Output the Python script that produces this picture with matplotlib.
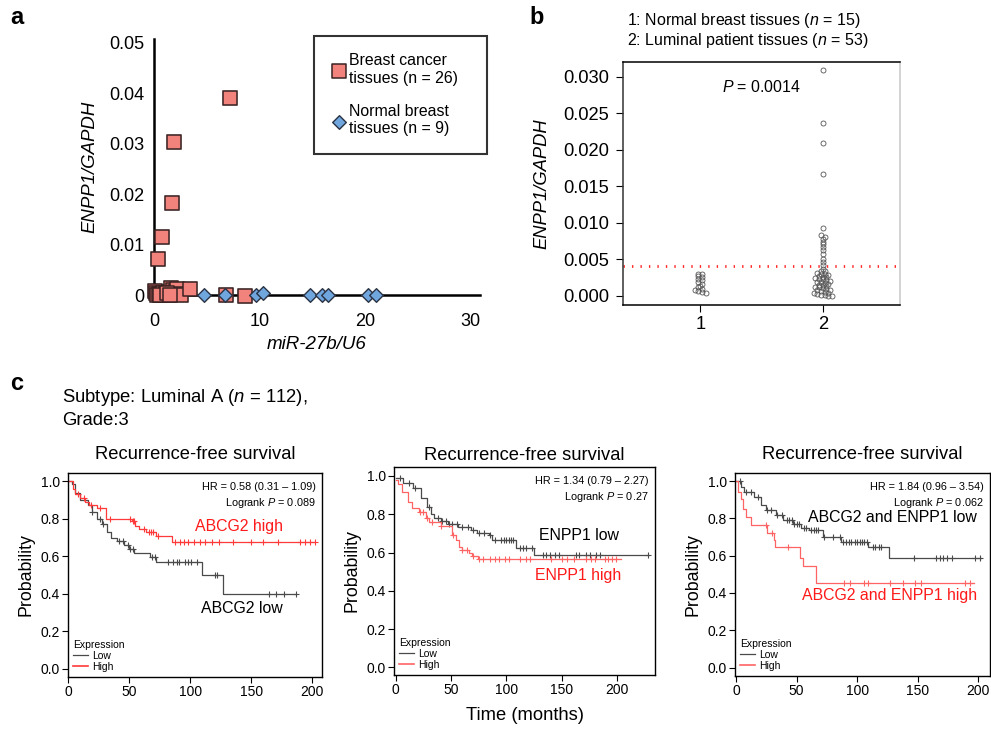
import numpy as np
import matplotlib
matplotlib.use('Agg')
import matplotlib.pyplot as plt
from matplotlib.lines import Line2D

plt.rcParams['font.family'] = ['Liberation Sans', 'DejaVu Sans']
plt.rcParams['mathtext.fontset'] = 'custom'
plt.rcParams['mathtext.rm'] = 'Liberation Sans'
plt.rcParams['mathtext.it'] = 'Liberation Sans:italic'

W, H = 991, 729

# ---- panel a: miR-27b vs ENPP1 ----
cancer_mir = [7.2, 1.9, 1.7, 0.8, 0.4, 0.1, 0.2, 0.3, 0.5, 0.7, 0.9, 1.1, 1.3,
              1.4, 1.6, 1.8, 2.0, 2.2, 2.4, 2.6, 0.6, 1.2, 3.4, 6.8, 8.6, 1.5]
cancer_enpp = [0.0391, 0.0304, 0.0182, 0.0114, 0.0071, 0.0008, 0.0003, 0.0, 0.0002,
               0.0, 0.0004, 0.0001, 0.0, 0.0006, 0.0014, 0.0009, 0.0005, 0.0011,
               0.0002, 0.0, 0.0, 0.0003, 0.0012, 0.0, -0.0002, 0.0]
normal_mir = [4.7, 6.7, 9.7, 10.3, 14.8, 15.9, 16.5, 20.3, 21.0]
normal_enpp = [0.0, 0.0, 0.0, 0.0004, 0.0, 0.0, 0.0, 0.0, 0.0]

# ---- panel b: ENPP1/GAPDH by group ----
normal_b = [0.0030, 0.0029, 0.0027, 0.0025, 0.0023, 0.0021, 0.0018, 0.0016,
            0.0013, 0.0011, 0.0009, 0.0007, 0.0006, 0.0005, 0.0004]
luminal_b = [0.0309, 0.0237, 0.0209, 0.0166, 0.0093, 0.0083, 0.0080, 0.0077,
             0.0074, 0.0071, 0.0067, 0.0062, 0.0057, 0.0050, 0.0046, 0.0042,
             0.0036, 0.0034, 0.0033, 0.0031, 0.0030, 0.0029, 0.0028, 0.0027,
             0.0026, 0.0025, 0.0024, 0.0023, 0.0022, 0.0021, 0.0020, 0.0019,
             0.0018, 0.0017, 0.0016, 0.0015, 0.0014, 0.0013, 0.0012, 0.0011,
             0.0010, 0.0009, 0.0008, 0.0007, 0.0006, 0.0005, 0.0004, 0.0003,
             0.0002, 0.0001, 0.0001, 0.0, 0.0]
cutoff_b = 0.004

# ---- panel c: Kaplan-Meier curves (event times, survival after event) ----
c1_low_t = [0, 3, 6, 10, 16, 20, 24, 28, 32, 35, 40, 46, 50, 54, 67, 72, 110, 127]
c1_low_s = [1.0, 0.985, 0.935, 0.90, 0.87, 0.835, 0.80, 0.77, 0.73, 0.695, 0.68,
            0.657, 0.638, 0.617, 0.595, 0.568, 0.497, 0.396]
c1_low_end = 187
c1_low_cens = [20, 26, 29, 42, 45, 49, 51, 53, 69, 71, 82, 86, 89, 91, 96, 98, 101,
               106, 120, 122, 165, 170, 177, 187]
c1_high_t = [0, 4, 6, 10, 14, 17, 24, 31, 52, 55, 58, 64, 72, 85]
c1_high_s = [1.0, 0.96, 0.93, 0.91, 0.89, 0.87, 0.855, 0.80, 0.785, 0.763, 0.746,
             0.728, 0.706, 0.677]
c1_high_end = 202
c1_high_cens = [8, 13, 19, 26, 34, 51, 53, 54, 62, 66, 68, 70, 74, 88, 92, 95, 98,
                103, 108, 112, 118, 124, 135, 150, 160, 172, 190, 194, 198, 202]

c2_low_t = [0, 7, 16, 23, 28, 32, 35, 41, 47, 56, 68, 73, 84, 87, 109, 125]
c2_low_s = [0.99, 0.965, 0.935, 0.885, 0.84, 0.80, 0.78, 0.765, 0.748, 0.736,
            0.718, 0.70, 0.694, 0.666, 0.626, 0.586]
c2_low_end = 228
c2_low_cens = [4, 12, 17, 30, 38, 42, 45, 48, 51, 55, 60, 65, 70, 75, 80, 85, 90,
               95, 98, 100, 102, 104, 106, 112, 115, 118, 123, 133, 136, 139, 144,
               147, 163, 165, 172, 175, 181, 184, 228]
c2_high_t = [0, 2, 6, 11, 15, 21, 27, 30, 41, 51, 54, 57, 60, 66, 69, 74]
c2_high_s = [0.98, 0.96, 0.918, 0.866, 0.831, 0.814, 0.779, 0.762, 0.741, 0.692,
             0.666, 0.631, 0.614, 0.597, 0.58, 0.567]
c2_high_end = 203
c2_high_cens = [22, 25, 28, 33, 41, 52, 60, 64, 70, 75, 79, 85, 90, 93, 99, 102,
                112, 118, 121, 140, 150, 155, 161, 172, 176, 180, 189, 192, 195, 199]

c3_low_t = [0, 4, 7, 15, 21, 25, 33, 39, 47, 54, 60, 72, 87, 109, 126]
c3_low_s = [1.0, 0.97, 0.94, 0.915, 0.87, 0.843, 0.817, 0.79, 0.767, 0.746, 0.737,
            0.70, 0.675, 0.648, 0.586]
c3_low_end = 202
c3_low_cens = [3, 8, 12, 18, 26, 29, 34, 38, 42, 44, 46, 48, 50, 52, 56, 58, 62,
               64, 66, 68, 73, 80, 86, 88, 91, 93, 95, 98, 100, 102, 104, 106, 108,
               113, 115, 118, 120, 147, 165, 168, 171, 174, 178, 197, 201]
c3_high_t = [0, 2, 4, 6, 8, 12, 26, 31, 32, 53, 55, 66]
c3_high_s = [1.0, 0.941, 0.906, 0.852, 0.808, 0.763, 0.719, 0.683, 0.645, 0.586,
             0.547, 0.456]
c3_high_end = 196
c3_high_cens = [25, 30, 43, 89, 94, 106, 109, 127, 138, 148, 153, 189, 193]


def px_axes(fig, left, top, right, bottom):
    return fig.add_axes([left / W, 1 - bottom / H, (right - left) / W, (bottom - top) / H])


def swarm_offsets(vals, bin_h, dx):
    vals = np.asarray(vals)
    bins = np.floor(vals / bin_h).astype(int)
    off = np.zeros(len(vals))
    for b in np.unique(bins):
        idx = np.where(bins == b)[0]
        k = len(idx)
        off[idx] = (np.arange(k) - (k - 1) / 2) * dx
    return off


def km(ax, t, s, end, cens, color):
    ax.step(list(t) + [end], list(s) + [s[-1]], where='post', color=color, lw=0.9)
    cy = np.asarray(s)[np.searchsorted(t, cens, side='right') - 1]
    ax.plot(cens, cy, ls='none', marker='+', color=color, ms=4.5, mew=0.8)


fig = plt.figure(figsize=(W / 100, H / 100), dpi=100)

# ---------------- panel a ----------------
ax = px_axes(fig, 154, 39, 480, 295)
ax.scatter(cancer_mir, cancer_enpp, s=135, color='k', alpha=0.16, lw=0, marker='s',
           clip_on=False, zorder=3)
ax.scatter(cancer_mir, cancer_enpp, s=95, marker='s', facecolor='#f2837c',
           edgecolor='#3a2222', lw=1.1, clip_on=False, zorder=4,
           label='Breast cancer\ntissues (n = 26)')
ax.scatter(normal_mir, normal_enpp, s=48, marker='D', facecolor='#6fa6dd',
           edgecolor='#2a3344', lw=1.0, clip_on=False, zorder=5,
           label='Normal breast\ntissues (n = 9)')
ax.set_xlim(0, 30.9)
ax.set_ylim(0, 0.0507)
ax.set_xticks([0, 10, 20, 30])
ax.set_yticks([0, 0.01, 0.02, 0.03, 0.04, 0.05])
ax.set_yticklabels(['0', '0.01', '0.02', '0.03', '0.04', '0.05'])
for sp in ['top', 'right']:
    ax.spines[sp].set_visible(False)
for sp in ['left', 'bottom']:
    ax.spines[sp].set_linewidth(1.8)
ax.tick_params(axis='both', length=0, labelsize=13)
ax.tick_params(axis='x', pad=13)
ax.tick_params(axis='y', pad=7)
ax.set_ylabel('ENPP1/GAPDH', fontsize=13.4, style='italic', labelpad=8)
ax.set_xlabel('miR-27b/U6', fontsize=13.5, style='italic', labelpad=4)
leg = ax.legend(loc='upper left',
                bbox_to_anchor=(314 / W, 1 - 36 / H - 0.01, 173 / W, 0.01),
                bbox_transform=fig.transFigure, mode='expand', fontsize=11.4,
                frameon=True, fancybox=False, borderpad=1.1, labelspacing=1.15,
                handlelength=1.0, handletextpad=0.1, borderaxespad=0)
leg.get_frame().set_edgecolor('k')
leg.get_frame().set_linewidth(1.5)

# ---------------- panel b ----------------
ax = px_axes(fig, 623, 62, 900, 305)
for i, vals in enumerate([normal_b, luminal_b]):
    off = swarm_offsets(vals, 0.0004, 0.03)
    ax.plot(np.full(len(vals), i + 1) + off, vals, ls='none', marker='o', ms=3.6,
            mfc='none', mec='#555555', mew=0.6)
ax.axhline(cutoff_b, color='#ff2a2a', lw=2, ls=(0, (0.5, 2.55)))
ax.set_xlim(0.37, 2.63)
ax.set_ylim(-0.0013, 0.032)
ax.set_xticks([1, 2])
ax.set_yticks([0, 0.005, 0.01, 0.015, 0.02, 0.025, 0.03])
ax.set_yticklabels(['%.3f' % v for v in ax.get_yticks()])
ax.tick_params(axis='both', length=5, width=0.8, labelsize=13.2, direction='out')
ax.tick_params(axis='y', pad=5)
ax.tick_params(axis='x', pad=3)
ax.spines['right'].set_color('#c8c8c8')
ax.spines['left'].set_color('#333333')
for sp in ax.spines.values():
    sp.set_linewidth(1.1)
ax.set_ylabel('ENPP1/GAPDH', fontsize=13.2, style='italic', labelpad=9)
ax.text(1.5, 0.0286, '$P$ = 0.0014', ha='center', va='center', fontsize=11.4)
fig.text(627 / W, 1 - 21 / H, '1: Normal breast tissues ($n$ = 15)', fontsize=11.5,
         ha='left', va='center')
fig.text(627 / W, 1 - 41 / H, '2: Luminal patient tissues ($n$ = 53)', fontsize=11.5,
         ha='left', va='center')

# ---------------- panel c ----------------
km_panels = [
    dict(box=(68, 473, 322, 677), xlim=(0, 208), ylim=(-0.045, 1.043),
         low=(c1_low_t, c1_low_s, c1_low_end, c1_low_cens),
         high=(c1_high_t, c1_high_s, c1_high_end, c1_high_cens),
         red='#ff3a3a', hr='HR = 0.58 (0.31 – 1.09)\nLogrank $P$ = 0.089',
         low_lab=('ABCG2 low', 142, 0.32), high_lab=('ABCG2 high', 140, 0.758),
         pad=10, xlabel=None),
    dict(box=(394, 467, 655, 675), xlim=(-1.5, 234), ylim=(-0.04, 1.047),
         low=(c2_low_t, c2_low_s, c2_low_end, c2_low_cens),
         high=(c2_high_t, c2_high_s, c2_high_end, c2_high_cens),
         red='#ff6464', hr='HR = 1.34 (0.79 – 2.27)\nLogrank $P$ = 0.27',
         low_lab=('ENPP1 low', 165, 0.69), high_lab=('ENPP1 high', 165, 0.48),
         pad=5, xlabel='Time (months)'),
    dict(box=(735, 473, 990, 676), xlim=(-0.8, 209.6), ylim=(-0.045, 1.043),
         low=(c3_low_t, c3_low_s, c3_low_end, c3_low_cens),
         high=(c3_high_t, c3_high_s, c3_high_end, c3_high_cens),
         red='#ff6464', hr='HR = 1.84 (0.96 – 3.54)\nLogrank $P$ = 0.062',
         low_lab=('ABCG2 and ENPP1 low', 128.7, 0.806),
         high_lab=('ABCG2 and ENPP1 high', 126.7, 0.385),
         pad=10, xlabel=None),
]
low_col = '#4a4a4a'
for p in km_panels:
    ax = px_axes(fig, *p['box'])
    km(ax, *p['low'], low_col)
    km(ax, *p['high'], p['red'])
    ax.set_xlim(*p['xlim'])
    ax.set_ylim(*p['ylim'])
    ax.set_xticks([0, 50, 100, 150, 200])
    ax.set_yticks([0, 0.2, 0.4, 0.6, 0.8, 1.0])
    ax.set_yticklabels(['%.1f' % v for v in ax.get_yticks()])
    ax.tick_params(axis='both', direction='out', length=4, width=0.8, labelsize=10, pad=2)
    for sp in ax.spines.values():
        sp.set_linewidth(1.0)
    ax.set_ylabel('Probability', fontsize=12.8, labelpad=4)
    ax.set_title('Recurrence-free survival', fontsize=13.2, pad=p['pad'])
    if p['xlabel']:
        ax.set_xlabel(p['xlabel'], fontsize=13.2, labelpad=7)
    ax.text(0.975, 0.955, p['hr'], transform=ax.transAxes, ha='right', va='top',
            fontsize=7.8, linespacing=1.35)
    lab, x, y = p['low_lab']
    ax.text(x, y, lab, ha='center', va='center', fontsize=11.4, color='k')
    lab, x, y = p['high_lab']
    ax.text(x, y, lab, ha='center', va='center', fontsize=11.4, color='#ff1a1a')
    handles = [Line2D([], [], color=low_col, lw=0.9), Line2D([], [], color=p['red'], lw=1.2)]
    leg = ax.legend(handles, ['Low', 'High'], title='Expression', loc='lower left',
                    frameon=False, fontsize=7.5, title_fontsize=7.5, alignment='left',
                    handlelength=1.4, handletextpad=0.4, labelspacing=0.1,
                    borderpad=0.2, borderaxespad=0.3)

# panel letters and subtype text
fig.text(17 / W, 1 - 18 / H, 'a', fontsize=17, fontweight='bold', ha='center', va='center')
fig.text(537 / W, 1 - 18 / H, 'b', fontsize=17, fontweight='bold', ha='center', va='center')
fig.text(17 / W, 1 - 383 / H, 'c', fontsize=17, fontweight='bold', ha='center', va='center')
fig.text(62 / W, 1 - 397 / H, 'Subtype: Luminal A ($n$ = 112),', fontsize=13.3,
         ha='left', va='center')
fig.text(62 / W, 1 - 420 / H, 'Grade:3', fontsize=13.3, ha='left', va='center')

fig.savefig('out.png', dpi=100)
